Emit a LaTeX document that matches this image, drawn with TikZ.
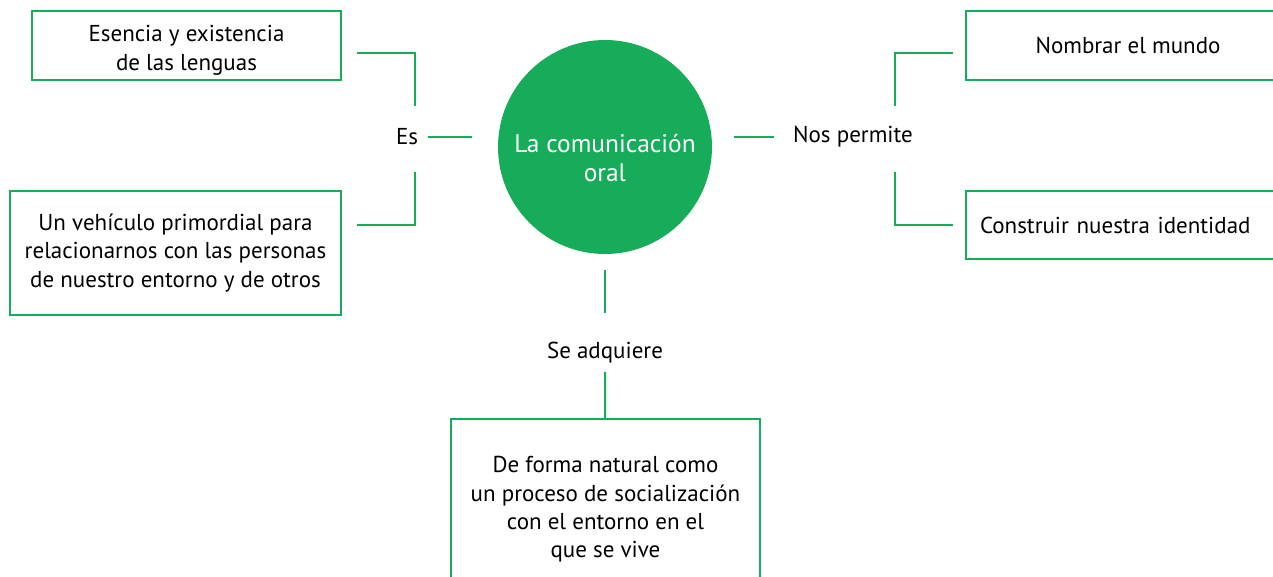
\documentclass[tikz,border=0pt]{standalone}
\usepackage{fontspec}
\setmainfont{PT Sans}
\usetikzlibrary{positioning}
\definecolor{verde}{RGB}{22,172,90}

\tikzset{
	caja/.style={rectangle,draw=verde,line width=1pt,align=center,inner sep=0pt},
	enlace/.style={draw=verde,line width=1pt},
	etiqueta/.style={inner sep=1pt},
}

\begin{document}
\begin{tikzpicture}[x=0.5pt,y=-0.5pt,font=\fontsize{11.5}{14.2}\selectfont]
		\useasboundingbox (0,0) rectangle (1273,577);
		\begin{scope}
		\clip (0,0) rectangle (1273,577);

		% centro
		\node[circle,fill=verde,text=white,minimum size=107pt,align=center,inner sep=0pt,font=\fontsize{12.7}{14.5}\selectfont] (com) at (605,147) {\rule{0pt}{20pt}La comunicación\\oral};

		% cajas
		\node[caja,minimum width=154.5pt,minimum height=34.5pt] (esencia) at (186.5,45.5) {\rule{0pt}{13pt}Esencia y existencia\\de las lenguas};
		\node[caja,minimum width=165.5pt,minimum height=62pt] (vehiculo) at (175.5,253) {Un vehículo primordial para\\relacionarnos con las personas\\de nuestro entorno y de otros};
		\node[caja,minimum width=162pt,minimum height=34.5pt] (nombrar) at (1128,45.5) {Nombrar el mundo};
		\node[caja,text width=148pt,inner xsep=7pt,minimum height=34pt,align=left] (construir) at (1128,225) {Construir nuestra identidad};
		\node[caja,minimum width=154.5pt,minimum height=90.5pt] (forma) at (605.5,509.5) {De forma natural como\\un proceso de socialización\\con el entorno en el\\que se vive};
		\end{scope}

		% etiquetas
		\node[etiqueta] (es) at (407,137) {Es};
		\node[etiqueta] (nos) at (853,137) {Nos permite};
		\node[etiqueta] (se) at (605,353) {Se adquiere};

		% esquinas
		\coordinate (es1) at (357,53);
		\coordinate (es2) at (415,106);
		\coordinate (es3) at (415,172);
		\coordinate (es4) at (357,225);
		\coordinate (nos1) at (953,53);
		\coordinate (nos2) at (895,106);
		\coordinate (nos3) at (895,172);
		\coordinate (nos4) at (953,225);

		\draw[enlace] (es1) -| (es2);
		\draw[enlace] (es3) |- (es4);
		\draw[enlace] (nos1) -| (nos2);
		\draw[enlace] (nos3) |- (nos4);

		\draw[enlace,shorten <=4pt,shorten >=13pt] (es.east) -- (es -| com.west);
		\draw[enlace,shorten <=11pt,shorten >=8.5pt] (com.east |- nos) -- (nos.west);
		\draw[enlace,shorten <=8pt,shorten >=13.5pt] (com) -- (se);
		\draw[enlace,shorten <=3pt] (se) -- (forma);
\end{tikzpicture}
\end{document}
